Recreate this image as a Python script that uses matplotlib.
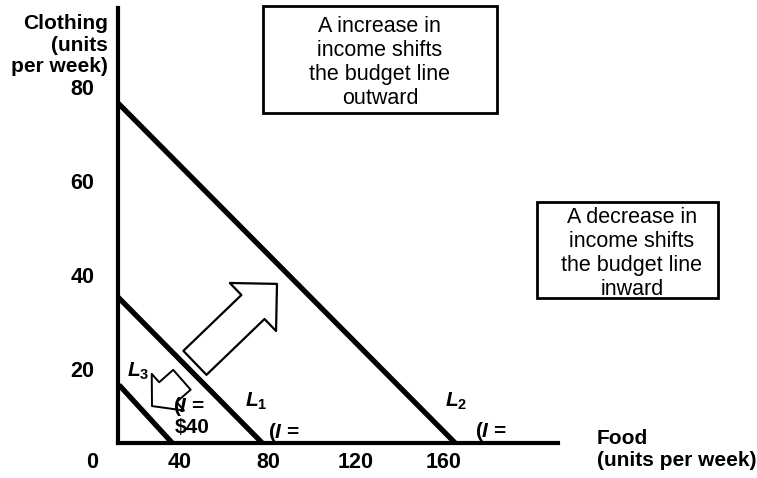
import matplotlib
matplotlib.use("Agg")
import matplotlib.pyplot as plt
from matplotlib.patches import Rectangle

plt.rcParams.update({
    "font.family": "Liberation Sans",
    "mathtext.fontset": "custom",
    "mathtext.it": "Liberation Sans:italic:bold",
    "mathtext.rm": "Liberation Sans:bold",
})

# ---- DATA ----
food_ticks = [0, 40, 80, 120, 160]
clothing_ticks = [20, 40, 60, 80]

# the drawn axes sit a bit inside the tick origin
axis_x0, axis_y0 = 11.8, 4.3
axis_xmax, axis_ymax = 211.8, 96.8

# budget lines (end points where they touch the drawn axes)
l1_x, l1_y = [11.8, 77.3], [35.3, 4.3]
l2_x, l2_y = [11.8, 165.0], [76.6, 4.3]
l3_x, l3_y = [12.3, 36.4], [16.6, 4.3]

# shift arrows: (tail, tip)
up_arrow = [(46.8, 21.3), (84.1, 38.1)]
down_arrow = [(40.9, 17.7), (27.3, 12.1)]

FS = 15

fig = plt.figure(figsize=(7.57, 4.78), dpi=100)
ax = fig.add_axes([0, 0, 1, 1])
ax.set_xlim(-41.8, 302.3)
ax.set_ylim(-3.2, 98.5)

for s in ["top", "right"]:
    ax.spines[s].set_visible(False)
ax.spines["left"].set_position(("data", axis_x0))
ax.spines["left"].set_bounds(axis_y0, axis_ymax)
ax.spines["bottom"].set_position(("data", axis_y0))
ax.spines["bottom"].set_bounds(axis_x0, axis_xmax)
for s in ["left", "bottom"]:
    ax.spines[s].set_linewidth(3)

ax.set_xticks(food_ticks)
ax.set_xticklabels([str(t) for t in food_ticks])
ax.set_yticks(clothing_ticks)
ax.set_yticklabels([str(t) for t in clothing_ticks])
ax.tick_params(axis="x", length=0, pad=7, labelsize=15.5)
ax.tick_params(axis="y", length=0, pad=17, labelsize=15.5)
for lab in ax.get_xticklabels() + ax.get_yticklabels():
    lab.set_fontweight("bold")

# budget lines
for xs, ys in [(l1_x, l1_y), (l2_x, l2_y), (l3_x, l3_y)]:
    ax.plot(xs, ys, color="black", lw=3.8, solid_capstyle="butt")

# hollow arrows
ax.annotate("", xy=up_arrow[1], xytext=up_arrow[0],
            arrowprops=dict(arrowstyle="simple,head_length=1.0,head_width=2.0,tail_width=1.0",
                            mutation_scale=24, fc="white", ec="black", lw=1.6,
                            shrinkA=0, shrinkB=0))
ax.annotate("", xy=down_arrow[1], xytext=down_arrow[0],
            arrowprops=dict(arrowstyle="simple,head_length=0.8,head_width=1.85,tail_width=1.0",
                            mutation_scale=19, fc="white", ec="black", lw=1.4,
                            shrinkA=0, shrinkB=0))

# axis titles
ax.text(7.3, 88.9, "Clothing\n(units\nper week)", ha="right", va="center",
        fontsize=FS, fontweight="bold", linespacing=1.18)
ax.text(229.5, 2.9, "Food\n(units per week)", ha="left", va="center",
        fontsize=FS, fontweight="bold", linespacing=1.22)

# line labels
ax.text(69.5, 11.9, r"$\mathit{L_1}$", fontsize=FS, ha="left", va="baseline")
ax.text(160.5, 11.9, r"$\mathit{L_2}$", fontsize=FS, ha="left", va="baseline")
ax.text(15.9, 18.3, r"$\mathit{L_3}$", fontsize=FS, ha="left", va="baseline")
ax.text(80.0, 5.3, r"($\mathit{I}$ =", fontsize=FS, fontweight="bold", va="baseline")
ax.text(174.1, 5.5, r"($\mathit{I}$ =", fontsize=FS, fontweight="bold", va="baseline")
ax.text(36.8, 10.9, r"($\mathit{I}$ =", fontsize=FS, fontweight="bold", va="baseline")
ax.text(37.7, 6.4, "$40", fontsize=FS, fontweight="bold", va="baseline")

# callout boxes
ax.add_patch(Rectangle((77.7, 74.5), 106.4, 22.7, fc="white", ec="black", lw=2))
ax.text(130.9, 85.2, "A increase in\nincome shifts\nthe budget line\noutward",
        ha="center", va="center", fontsize=15.5, linespacing=1.17)
ax.add_patch(Rectangle((202.3, 35.1), 82.2, 20.4, fc="white", ec="black", lw=2))
ax.text(245.4, 44.6, "A decrease in\nincome shifts\nthe budget line\ninward",
        ha="center", va="center", fontsize=15.5, linespacing=1.2)

plt.savefig("out.png", dpi=100)
